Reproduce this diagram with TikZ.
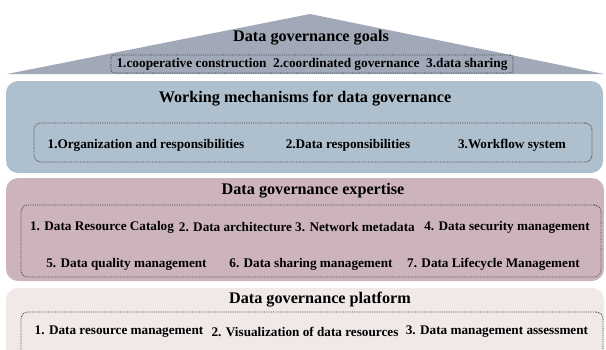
\documentclass[tikz,border=0pt]{standalone}
\usepackage{fontspec}
\setmainfont{Liberation Serif}
\definecolor{roofc}{HTML}{A1A8B8}
\definecolor{bluec}{HTML}{AEBFCD}
\definecolor{pinkc}{HTML}{CDB4BB}
\definecolor{lightc}{HTML}{F1E8E8}
\definecolor{dotc}{HTML}{3C3C3C}
\begin{document}
\begin{tikzpicture}[x=1pt,y=-1pt,
  panel/.style={rectangle, rounded corners=12pt, draw=none, inner sep=0pt},
  dotbox/.style={rectangle, rounded corners=7pt, draw=dotc, densely dotted, line width=0.8pt, inner sep=0pt},
  ttl/.style={font=\fontsize{16.2}{18}\selectfont\bfseries, inner sep=0pt},
  itm/.style={font=\fontsize{13.2}{15}\selectfont\bfseries, inner sep=0pt},
  sub/.style={font=\fontsize{13.3}{15}\selectfont\bfseries, inner sep=0pt}]
\useasboundingbox (0,0) rectangle (606,349);
\clip (0,0) rectangle (606,349);
% roof
\coordinate (rl) at (7,74);
\coordinate (rt) at (310,14);
\coordinate (rr) at (604,74);
\fill[roofc] (rl) -- (rt) -- (rr) -- cycle;
\node[ttl] (gt) at (311,38) {Data governance goals};
\node[dotbox, rounded corners=3pt, minimum width=402, minimum height=18] (gb) at (312,64) {};
\node[sub] (gs) at (312,64.5) {1.cooperative construction\ \ 2.coordinated governance\ \ 3.data sharing};
% working mechanisms
\node[panel, fill=bluec, minimum width=597, minimum height=92] (wp) at (304.5,127) {};
\node[ttl] (wt) at (305,99) {Working mechanisms for data governance};
\node[dotbox, minimum width=558, minimum height=39] (wb) at (313,142.5) {};
\node[itm] (w1) at (146,145) {1.Organization and responsibilities};
\node[itm] (w2) at (348,145) {2.Data responsibilities};
\node[itm] (w3) at (512,145) {3.Workflow system};
% expertise
\node[panel, fill=pinkc, minimum width=598, minimum height=103] (ep) at (305,229.5) {};
\node[ttl] (et) at (313,191) {Data governance expertise};
\node[dotbox, minimum width=580, minimum height=72] (eb) at (311,241) {};
\node[itm] (e1) at (102,227) {1. Data Resource Catalog};
\node[itm] (e2) at (235.5,227) {2. Data architecture};
\node[itm] (e3) at (355,227) {3. Network metadata};
\node[itm] (e4) at (507,227) {4. Data security management};
\node[itm] (e5) at (126.5,264) {5. Data quality management};
\node[itm] (e6) at (311,264) {6. Data sharing management};
\node[itm] (e7) at (493.5,264) {7. Data Lifecycle Management};
% platform
\node[panel, fill=lightc, minimum width=598, minimum height=80] (pp) at (305,328) {};
\node[ttl] (pt) at (320,300) {Data governance platform};
\node[dotbox, minimum width=582, minimum height=52] (pb) at (312,338) {};
\node[itm] (p1) at (119,332) {1. Data resource management};
\node[itm] (p2) at (305,332) {2. Visualization of data resources};
\node[itm] (p3) at (497,332) {3. Data management assessment};
\end{tikzpicture}
\end{document}
